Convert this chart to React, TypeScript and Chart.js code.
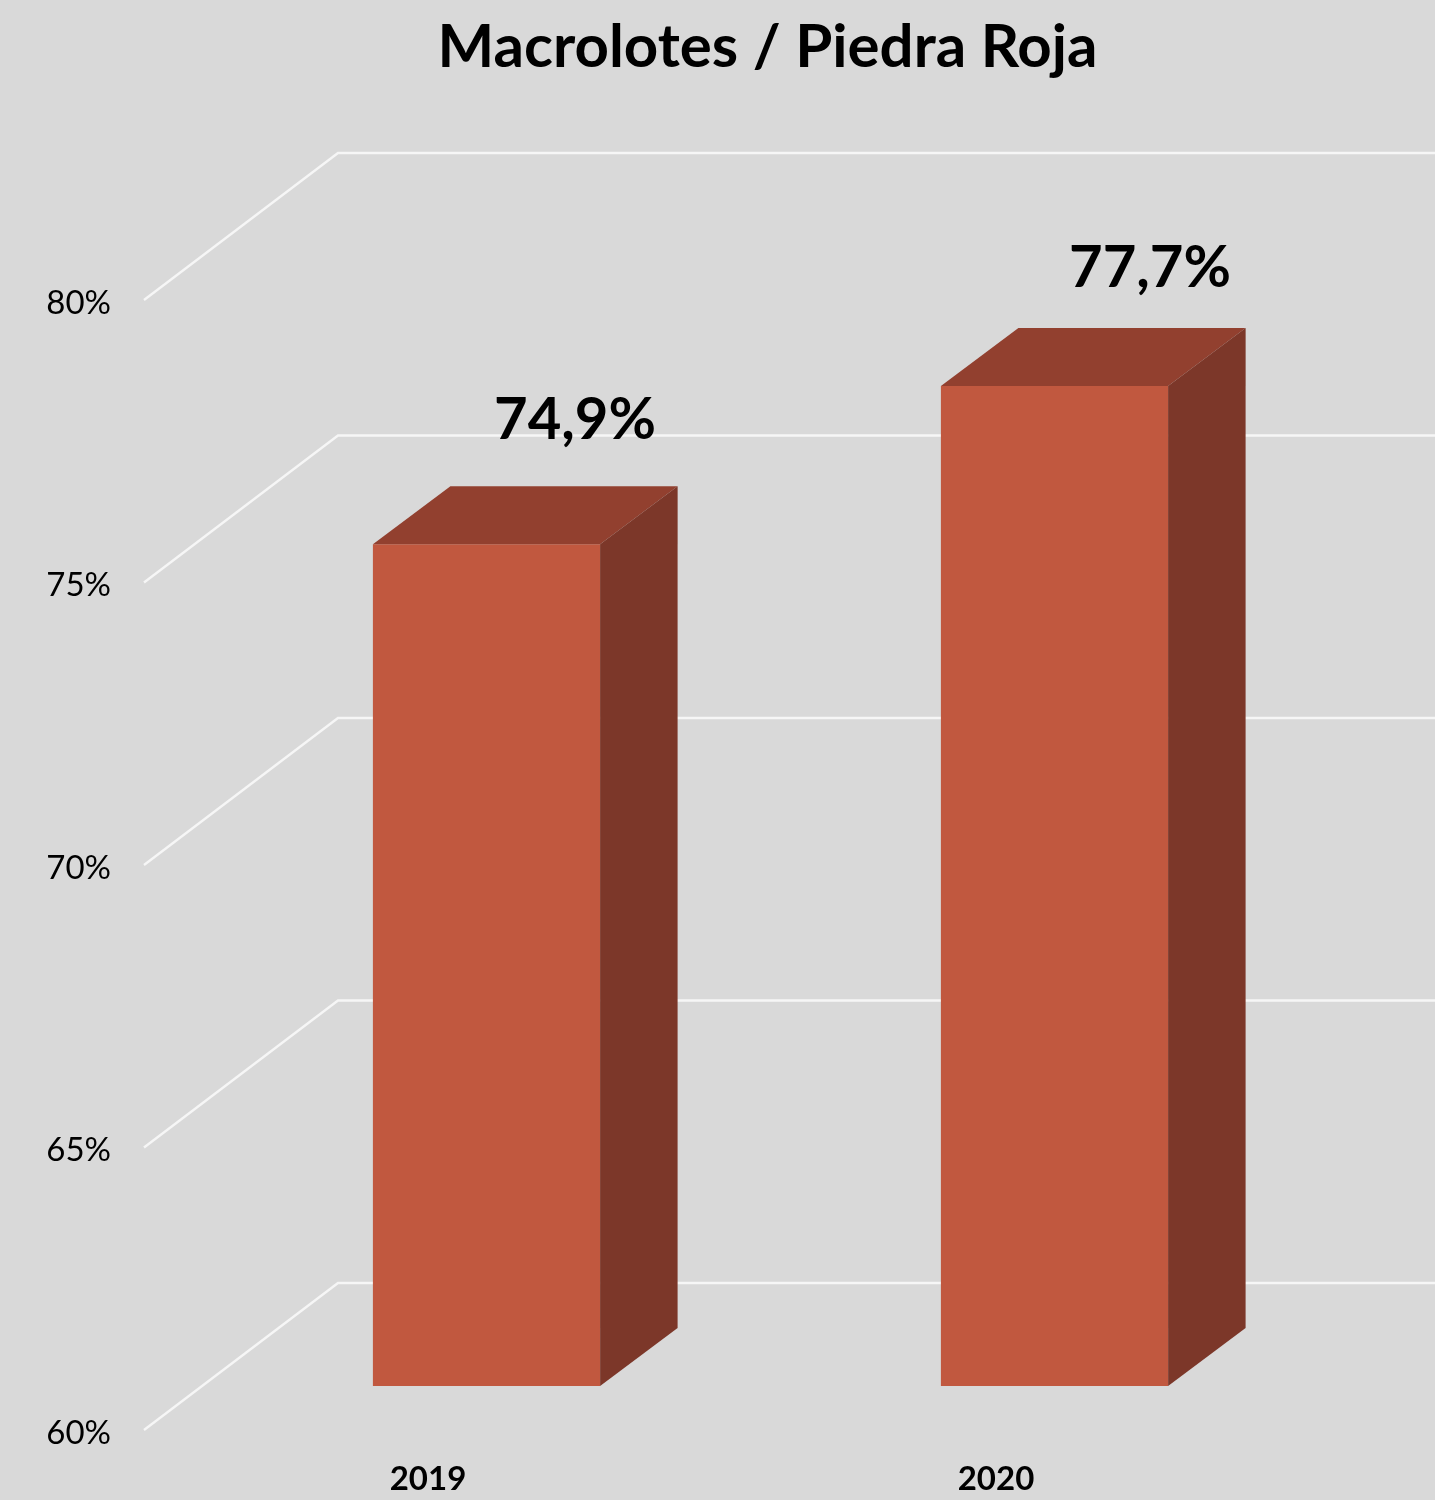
import React, { useEffect, useRef } from "react";
import { Chart, registerables } from "chart.js";

Chart.register(...registerables);

const categories = ["2019", "2020"];
const values = [74.9, 77.7];
const yTicks = [60, 65, 70, 75, 80];
const chartTitle = "Macrolotes / Piedra Roja";

const FONT = "Lato, Carlito, 'Open Sans', sans-serif";
const BG = "#D9D9D9";
const FRONT = "#C1583F";
const TOP = "#92402F";
const SIDE = "#7C3729";
const GRID = "#F6F6F6";
// oblique projection of the 3D walls
const WALL_DX = 194;
const WALL_DY = 147;
const BAR_SHIFT_X = 58.5;
const BAR_SHIFT_Y = 44;
const BAR_DX = 77.5;
const BAR_DY = 58;
const LABEL_OFFSETS = [
  { dx: 88.5, dy: 124 },
  { dx: 95.5, dy: 118 },
];

const box3d = {
  id: "box3d",
  beforeDraw(chart: any) {
    const { ctx, width, height } = chart;
    ctx.save();
    ctx.fillStyle = BG;
    ctx.fillRect(0, 0, width, height);
    ctx.restore();
  },
  afterLayout(chart: any) {
    // the title is centred over the plot's perspective, not over the canvas
    chart.titleBlock.left = 100;
    chart.titleBlock.right = chart.width;
  },
  beforeDatasetsDraw(chart: any) {
    const { ctx, width, chartArea, scales } = chart;
    ctx.save();
    ctx.strokeStyle = GRID;
    ctx.lineWidth = 2.4;
    yTicks.forEach((t) => {
      const y = scales.y.getPixelForValue(t);
      ctx.beginPath();
      ctx.moveTo(chartArea.left, y);
      ctx.lineTo(chartArea.left + WALL_DX, y - WALL_DY);
      ctx.lineTo(width, y - WALL_DY);
      ctx.stroke();
    });
    ctx.restore();
    // shift the bars' front plane toward the back wall
    ctx.save();
    ctx.translate(BAR_SHIFT_X, -BAR_SHIFT_Y);
  },
  afterDatasetsDraw(chart: any) {
    const { ctx } = chart;
    const bars = chart.getDatasetMeta(0).data;
    bars.forEach((bar: any) => {
      const { x, y, base, width: w } = bar.getProps(["x", "y", "base", "width"], true);
      const l = x - w / 2;
      const r = x + w / 2;
      ctx.fillStyle = TOP;
      ctx.beginPath();
      ctx.moveTo(l, y);
      ctx.lineTo(l + BAR_DX, y - BAR_DY);
      ctx.lineTo(r + BAR_DX, y - BAR_DY);
      ctx.lineTo(r, y);
      ctx.closePath();
      ctx.fill();
      ctx.fillStyle = SIDE;
      ctx.beginPath();
      ctx.moveTo(r, y);
      ctx.lineTo(r + BAR_DX, y - BAR_DY);
      ctx.lineTo(r + BAR_DX, base - BAR_DY);
      ctx.lineTo(r, base);
      ctx.closePath();
      ctx.fill();
    });
    ctx.fillStyle = "#000";
    ctx.font = `bold 58px ${FONT}`;
    ctx.textAlign = "center";
    ctx.textBaseline = "middle";
    bars.forEach((bar: any, i: number) => {
      const { x, y } = bar.getProps(["x", "y"], true);
      const off = LABEL_OFFSETS[i];
      ctx.fillText(values[i].toFixed(1).replace(".", ",") + "%", x + off.dx, y - off.dy);
    });
    ctx.restore();
  },
};

export default function App() {
  const ref = useRef<HTMLCanvasElement>(null);
  useEffect(() => {
    const chart = new Chart(ref.current as HTMLCanvasElement, {
      type: "bar",
      data: {
        labels: categories,
        datasets: [
          {
            data: values,
            base: 60,
            backgroundColor: FRONT,
            borderWidth: 0,
            barPercentage: 0.4,
            categoryPercentage: 1,
          },
        ],
      },
      options: {
        responsive: false,
        animation: false,
        devicePixelRatio: 1,
        layout: { padding: { left: 0, right: 155, top: 0, bottom: 0 } },
        plugins: {
          legend: { display: false },
          tooltip: { enabled: false },
          title: {
            display: true,
            text: chartTitle,
            color: "#000",
            font: { family: FONT, size: 60, weight: "bold", lineHeight: 1.2 },
            padding: { top: 12, bottom: 216 },
          },
        },
        scales: {
          x: {
            grid: { display: false },
            border: { display: false },
            afterFit(s: any) {
              s.height = 70;
            },
            ticks: {
              color: "#000",
              padding: 22,
              font: { family: FONT, size: 33, weight: "bold" },
              maxRotation: 0,
            },
          },
          y: {
            min: 60,
            max: 80,
            grid: { display: false, drawTicks: false },
            border: { display: false },
            afterFit(s: any) {
              s.width = 144;
            },
            ticks: {
              stepSize: 5,
              color: "#000",
              padding: 33,
              labelOffset: 3,
              font: { family: FONT, size: 33 },
              callback: (v: any) => `${v}%`,
            },
          },
        },
      },
      plugins: [box3d],
    } as any);
    return () => chart.destroy();
  }, []);
  return (
    <div style={{ position: "absolute", left: 0, top: 0, width: 1435, height: 1500, background: BG }}>
      <canvas ref={ref} width={1435} height={1500} style={{ display: "block" }} />
    </div>
  );
}
